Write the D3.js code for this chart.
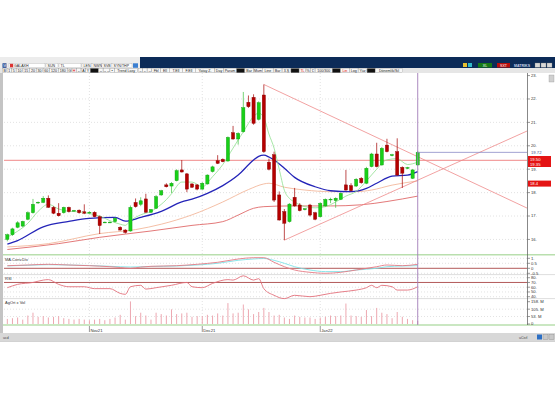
<!DOCTYPE html>
<html>
<head>
<meta charset="utf-8">
<script src="https://cdn.jsdelivr.net/npm/d3@7/dist/d3.min.js"></script>
<style>
body { margin: 0; background: #fff; }
svg { display: block; }
text { font-family: "Liberation Sans", "DejaVu Sans", sans-serif; }
</style>
</head>
<body>
<div id="chart"></div>
<script>
// daily bars, Oct 2021 - Jan 2022
var opens = [16.00,16.20,16.52,16.57,16.86,17.14,17.56,17.58,17.76,17.37,
	17.12,17.14,17.37,17.22,17.25,17.18,17.14,17.16,16.97,16.72,
	16.73,16.76,16.52,16.40,16.36,17.58,17.50,17.73,17.16,17.33,
	17.90,18.33,18.28,18.51,18.97,18.80,18.37,18.33,18.15,18.37,
	18.90,19.36,19.42,19.35,20.56,20.29,20.60,21.86,22.07,21.13,
	22.17,19.30,19.62,17.90,17.19,16.76,17.80,17.47,17.27,17.47,
	17.14,16.97,17.43,17.70,17.66,17.71,18.33,18.30,18.28,18.61,
	18.40,19.11,19.65,19.18,20.03,19.58,19.75,19.08,19.05,18.61,
	19.18];
var highs = [16.25,16.50,16.78,16.80,17.20,17.73,17.62,17.85,17.88,17.42,
	17.55,17.40,17.40,17.26,17.28,17.50,17.20,17.20,17.02,16.76,
	16.77,16.95,16.56,16.44,17.45,17.75,17.80,17.95,17.30,17.90,
	18.12,18.40,18.45,19.00,19.39,18.84,18.40,18.36,18.45,18.78,
	19.15,19.60,19.46,20.40,20.85,20.58,22.30,22.15,22.20,21.90,
	22.62,19.45,19.75,18.05,17.30,17.55,18.20,17.55,17.34,17.52,
	17.18,17.58,17.75,17.78,17.80,18.00,18.97,18.40,18.62,18.66,
	19.10,19.70,20.13,19.95,20.30,19.66,20.32,19.12,19.10,19.00,
	19.78];
var lows = [15.92,16.15,16.48,16.52,16.82,17.10,17.52,17.55,17.35,17.08,
	16.98,17.10,17.15,17.20,17.10,17.08,17.10,16.95,16.23,16.70,
	16.70,16.72,16.38,16.25,16.33,17.36,17.42,17.14,17.12,17.30,
	17.86,18.22,17.98,18.48,18.86,18.02,18.20,18.10,18.12,18.34,
	18.86,19.22,19.30,19.32,20.26,20.05,20.56,21.62,20.90,21.08,
	19.70,18.95,17.60,16.80,15.97,16.72,17.40,17.20,17.24,16.98,
	16.82,16.94,17.40,17.55,17.35,17.68,18.08,18.05,18.24,18.38,
	18.36,19.08,19.08,19.15,19.72,19.55,18.72,18.20,19.00,18.58,
	19.15];
var closes = [16.20,16.45,16.71,16.77,17.14,17.50,17.59,17.76,17.37,17.12,
	17.01,17.37,17.19,17.24,17.14,17.12,17.16,16.97,16.59,16.74,
	16.74,16.90,16.40,16.30,17.37,17.40,17.65,17.16,17.28,17.83,
	18.08,18.25,18.40,18.94,18.88,18.15,18.23,18.15,18.40,18.75,
	19.10,19.25,19.32,20.36,20.29,20.53,21.63,21.67,20.96,21.84,
	19.75,19.00,17.68,16.83,16.69,17.51,17.43,17.23,17.31,17.04,
	16.86,17.54,17.71,17.72,17.76,17.97,18.11,18.08,18.57,18.42,
	19.04,19.65,19.11,19.89,19.75,19.62,18.75,18.83,19.07,18.97,
	19.72];
// volume, millions
var volumes = [36,41,46,31,60,80,51,56,46,51,
	56,41,36,31,36,31,27,31,36,27,
	36,46,65,31,160,56,80,60,31,80,
	70,60,104,70,75,80,51,56,56,65,
	60,75,60,148,75,80,138,104,70,85,
	114,85,60,65,46,36,60,51,46,46,
	36,46,51,60,56,60,145,60,56,51,
	99,56,114,80,70,41,85,51,36,27,
	22];

// moving averages [bar, value]
var maFast = [[0,16.1],[2,16.35],[4,16.69],[6,17.2],[8,17.5],[10,17.3],[12,17.2],[14,17.18],[16,17.1],
	[18,17.0],[20,16.8],[22,16.65],[23,16.6],[24,16.8],[26,17.05],[28,17.2],[30,17.5],[31,17.7],
	[32,17.95],[34,18.45],[36,18.45],[38,18.25],[40,18.68],[42,19.2],[44,19.9],[46,20.6],[48,21.25],
	[49,21.4],[50,21.2],[51,20.5],[52,19.9],[53,19.0],[54,18.1],[55,17.75],[56,17.6],[58,17.4],
	[60,17.35],[62,17.4],[64,17.6],[66,17.85],[68,18.05],[70,18.5],[72,19.0],[74,19.4],[76,19.45],
	[78,19.2],[80,19.3]];
var maMid = [[0,15.8],[2,15.95],[7,16.54],[12,16.77],[16,16.9],[21,16.94],[23,16.78],[26,16.94],
	[30,17.2],[34,17.6],[36,17.72],[39,17.97],[42,18.3],[45,18.75],[48,19.39],[49,19.55],[50,19.6],
	[51,19.52],[52,19.39],[54,19.04],[56,18.65],[60,18.25],[63,18.08],[67,18.04],[70,18.18],
	[72,18.4],[75,18.7],[78,18.75],[80,18.9]];
var maSlow = [[0,15.68],[8,15.82],[18,16.25],[25,16.42],[30,16.65],[36,17.05],[42,17.6],[47,18.13],
	[50,18.37],[51,18.4],[54,18.23],[58,18.11],[63,18.04],[68,18.04],[71,18.11],[75,18.32],[80,18.5]];
var maLong = [[0,15.57],[10,15.82],[18,16.09],[28,16.36],[36,16.6],[42,16.76],[45,17.04],[48,17.33],
	[50,17.4],[55,17.43],[63,17.43],[69,17.48],[74,17.62],[80,17.85]];

// MACD and signal [bar, value]
var macdLine = [[0,0.26],[4,0.33],[8,0.4],[12,0.33],[16,0.26],[20,0.16],[22,0.08],[24,0.0],[26,0.12],
	[28,0.2],[33,0.26],[37,0.4],[41,0.6],[45,0.93],[48,1.06],[50,1.06],[52,0.6],[54,0.16],[56,-0.17],
	[59,-0.4],[62,-0.5],[65,-0.4],[68,-0.17],[72,0.16],[74,0.33],[77,0.26],[80,0.4]];
var signalLine = [[0,0.24],[4,0.3],[8,0.36],[12,0.33],[16,0.28],[20,0.2],[24,0.13],[28,0.18],[33,0.23],
	[37,0.33],[41,0.5],[45,0.8],[48,0.93],[50,0.98],[52,0.8],[54,0.5],[56,0.16],[59,-0.17],[62,-0.33],
	[65,-0.33],[68,-0.17],[72,0.0],[74,0.16],[77,0.23],[80,0.26]];
// RSI [bar, value]
var rsiLine = [[0,59],[2,66],[5,70],[7,75],[8,76],[10,66],[12,61],[15,61],[17,57],[20,57],[22,47],
	[23,45],[24,61],[26,64],[27,56],[29,59],[32,64],[35,70],[36,61],[38,59],[40,68],[43,76],[44,75],
	[46,84],[48,75],[49,78],[50,57],[52,43],[54,36],[56,43],[59,40],[61,43],[63,47],[65,50],[68,54],
	[70,59],[71,64],[72,59],[73,64],[75,61],[76,54],[78,54],[80,61]];

// trend lines [bar1, price1, bar2, price2]
var trendLines = [[50,22.62,101.3,17.34],[54,15.97,101.3,20.63]];
var levelPrice = 19.38;
var lastPrice = 19.72;

var monthBars = [16, 38, 61];
var monthLabels = ["Nov21", "Dec21", "Jan22"];
var priceTicks = [16, 17, 18, 19, 20, 21, 22, 23];
var macdTicks = [1, 0.5, 0, -0.5];
var macdTickLabels = ["1.", "0.5", "0", "-0.5"];
var rsiTicks = [80, 70, 60, 50, 40];
var volTicks = [158, 105, 53, 0];
var volTickLabels = ["158. M", "105. M", "53. M", "0"];

var svg = d3.select("#chart").append("svg").attr("width", 555).attr("height", 400);

// ---- window chrome ----
svg.append("rect").attr("x", 0).attr("y", 57).attr("width", 555).attr("height", 285).attr("fill", "#d2d2d2");
svg.append("rect").attr("x", 0).attr("y", 57).attr("width", 140).attr("height", 11).attr("fill", "#ececec");
svg.append("rect").attr("x", 140).attr("y", 57).attr("width", 415).attr("height", 11).attr("fill", "#0c2b58");
svg.append("rect").attr("x", 0).attr("y", 68).attr("width", 555).attr("height", 5).attr("fill", "#e6e6e6");
svg.append("rect").attr("x", 3).attr("y", 73).attr("width", 552).attr("height", 260).attr("fill", "#fff");
svg.append("rect").attr("x", 0).attr("y", 333).attr("width", 555).attr("height", 8).attr("fill", "#d8d8d8");

var hdr = svg.append("g").style("font-size", "3.6px");
hdr.append("rect").attr("x", 2.5).attr("y", 63.3).attr("width", 4).attr("height", 4.5).attr("fill", "#1f3f8a");
hdr.append("text").attr("x", 3.2).attr("y", 67.1).attr("fill", "#fff").text("M");
var row1 = [["GALAXH", 9, 36], ["SUN", 46, 12], ["TL", 59, 22], ["LEN", 82, 10], ["NWN", 92, 10], ["SVB", 102, 10], ["SYN/THP", 112, 20]];
row1.forEach(function (f) {
	hdr.append("rect").attr("x", f[1]).attr("y", 63.3).attr("width", f[2]).attr("height", 4.5)
		.attr("fill", "#fff").attr("stroke", "#999").attr("stroke-width", 0.3);
	hdr.append("text").attr("x", f[1] + (f[0] === "GALAXH" ? 5 : 1.5)).attr("y", 66.9).attr("fill", "#222").text(f[0]);
});
hdr.append("rect").attr("x", 10).attr("y", 63.8).attr("width", 3.2).attr("height", 3.5).attr("fill", "#d33");
hdr.append("rect").attr("x", 133).attr("y", 63.3).attr("width", 5).attr("height", 4.5).attr("fill", "#3c7fd0");

var row2 = ["B","1","5","10","15","20","30","60","120","180","G","H","\u2190","A","Y","\u25a0","\u2194","\u2192\u2190","\u2022",
	"Trend Lasy","\u2192","\u2190","\u2192","Fbl","Ell","T.Ell","F.Ell","Yatay Z.","Day","Param","\u25a0","Bar","Mum","Line",
	"Bar","3.\u015e","\u25a0","TL","%","\u20ac","100/300","\u25a0","Lin","Log","Y\u00fcz","\u25a0","D\u00f6nemlik/S\u0131l"];
var bx = 2.5;
row2.forEach(function (t) {
	var black = t === "\u25a0";
	var w = black ? 8 : Math.max(4.3, t.length * 2.1 + 2.2);
	hdr.append("rect").attr("x", bx).attr("y", 68.4).attr("width", w).attr("height", 4.3)
		.attr("fill", black ? "#111" : "#f7f7f7").attr("stroke", "#888").attr("stroke-width", 0.3);
	if (!black) {
		hdr.append("text").attr("x", bx + w / 2).attr("y", 71.8).attr("text-anchor", "middle")
			.attr("fill", (t === "H" || t === "TL" || t === "Lin") ? "#d00" : "#222").text(t);
	}
	bx += w + 0.3;
});

// top right buttons
hdr.append("rect").attr("x", 463).attr("y", 63).attr("width", 4).attr("height", 4).attr("fill", "#e8c030");
hdr.append("rect").attr("x", 468).attr("y", 63).attr("width", 4).attr("height", 4).attr("fill", "#30b8c8");
hdr.append("rect").attr("x", 478).attr("y", 63).attr("width", 14).attr("height", 4.5).attr("fill", "#167a16");
hdr.append("text").attr("x", 485).attr("y", 66.6).attr("text-anchor", "middle").attr("fill", "#fff").text("XL");
hdr.append("rect").attr("x", 497).attr("y", 63).attr("width", 13).attr("height", 4.5).attr("fill", "#b80d0d");
hdr.append("text").attr("x", 503.5).attr("y", 66.6).attr("text-anchor", "middle").attr("fill", "#fff").text("SXT");
hdr.append("text").attr("x", 514).attr("y", 66.6).attr("fill", "#c8d0e8").style("font-weight", "bold").text("MATRIKS");
[535, 541, 547].forEach(function (bxx) {
	hdr.append("rect").attr("x", bxx).attr("y", 63).attr("width", 5).attr("height", 4.3)
		.attr("fill", "#d8d8d8").attr("stroke", "#777").attr("stroke-width", 0.3);
});

// left gray strip
svg.append("rect").attr("x", 0).attr("y", 73).attr("width", 3).attr("height", 260).attr("fill", "#c4c4c4");

// ---- scales ----
var x = d3.scaleLinear().domain([-0.65, 101.3]).range([4, 527]);
var yP = d3.scaleLinear().domain([15.42, 23.11]).range([253, 73]);
var yM = d3.scaleLinear().domain([-0.57, 1.23]).range([274, 256]);
var yR = d3.scaleLinear().domain([37.3, 85.7]).range([298, 275]);
var yV = d3.scaleLinear().domain([0, 158]).range([324, 301.7]);

var defs = svg.append("defs");
defs.append("clipPath").attr("id", "clipP").append("rect").attr("x", 4).attr("y", 73).attr("width", 523).attr("height", 181);
defs.append("clipPath").attr("id", "clipS").append("rect").attr("x", 4).attr("y", 255).attr("width", 523).attr("height", 70);

var gridColor = "#cfcfcf";

// ---- grids ----
var grid = svg.append("g");
grid.selectAll("line.hp").data(priceTicks.filter(function (d) { return d < 23; })).enter().append("line")
	.attr("x1", 4).attr("x2", 527).attr("y1", function (d) { return yP(d); }).attr("y2", function (d) { return yP(d); })
	.attr("stroke", gridColor).attr("stroke-width", 0.6).attr("stroke-dasharray", "1,2");
grid.selectAll("line.hm").data([1, 0.5, -0.5]).enter().append("line")
	.attr("x1", 4).attr("x2", 527).attr("y1", function (d) { return yM(d); }).attr("y2", function (d) { return yM(d); })
	.attr("stroke", gridColor).attr("stroke-width", 0.6).attr("stroke-dasharray", "1,2");
grid.selectAll("line.hr").data([80, 60, 50, 40]).enter().append("line")
	.attr("x1", 4).attr("x2", 527).attr("y1", function (d) { return yR(d); }).attr("y2", function (d) { return yR(d); })
	.attr("stroke", gridColor).attr("stroke-width", 0.6).attr("stroke-dasharray", "1,2");
grid.selectAll("line.hv").data([105, 53]).enter().append("line")
	.attr("x1", 4).attr("x2", 527).attr("y1", function (d) { return yV(d); }).attr("y2", function (d) { return yV(d); })
	.attr("stroke", gridColor).attr("stroke-width", 0.6).attr("stroke-dasharray", "1,2");
grid.selectAll("line.v").data(monthBars).enter().append("line")
	.attr("x1", function (d) { return x(d); }).attr("x2", function (d) { return x(d); })
	.attr("y1", 73).attr("y2", 325)
	.attr("stroke", gridColor).attr("stroke-width", 0.6).attr("stroke-dasharray", "1,2");

// panel separators
svg.append("line").attr("x1", 3).attr("x2", 555).attr("y1", 254.8).attr("y2", 254.8).attr("stroke", "#b9dfae").attr("stroke-width", 1.6);
svg.append("line").attr("x1", 3).attr("x2", 555).attr("y1", 274.6).attr("y2", 274.6).attr("stroke", "#c8c8c8").attr("stroke-width", 0.6);
svg.append("line").attr("x1", 3).attr("x2", 555).attr("y1", 298.6).attr("y2", 298.6).attr("stroke", "#c8c8c8").attr("stroke-width", 0.6);
svg.append("line").attr("x1", 3).attr("x2", 555).attr("y1", 325).attr("y2", 325).attr("stroke", "#b9dfae").attr("stroke-width", 1.6);

// ---- price panel ----
var price = svg.append("g").attr("clip-path", "url(#clipP)");

var line = d3.line().x(function (d) { return x(d[0]); }).y(function (d) { return yP(d[1]); }).curve(d3.curveMonotoneX);

price.append("line").attr("x1", 4).attr("x2", 527).attr("y1", yP(levelPrice)).attr("y2", yP(levelPrice))
	.attr("stroke", "#ee7a7a").attr("stroke-width", 0.9);

price.append("path").datum(maLong).attr("d", line).attr("fill", "none").attr("stroke", "#e06a6a").attr("stroke-width", 0.9);
price.append("path").datum(maSlow).attr("d", line).attr("fill", "none").attr("stroke", "#f3b89c").attr("stroke-width", 0.9);
price.append("path").datum(maMid).attr("d", line).attr("fill", "none").attr("stroke", "#2424b8").attr("stroke-width", 1.3);
price.append("path").datum(maFast).attr("d", line).attr("fill", "none").attr("stroke", "#8fe08f").attr("stroke-width", 0.8);

price.selectAll("line.trend").data(trendLines).enter().append("line")
	.attr("x1", function (d) { return x(d[0]); }).attr("y1", function (d) { return yP(d[1]); })
	.attr("x2", function (d) { return x(d[2]); }).attr("y2", function (d) { return yP(d[3]); })
	.attr("stroke", "#ef8a8a").attr("stroke-width", 0.8);

var bars = d3.range(opens.length).map(function (i) {
	return {i: i, o: opens[i], h: highs[i], l: lows[i], c: closes[i]};
});
var candle = price.selectAll("g.candle").data(bars).enter().append("g").attr("class", "candle");
candle.append("line")
	.attr("x1", function (d) { return x(d.i); }).attr("x2", function (d) { return x(d.i); })
	.attr("y1", function (d) { return yP(d.h); }).attr("y2", function (d) { return yP(d.l); })
	.attr("stroke", function (d) { return d.c >= d.o ? "#3cc23c" : "#a40000"; })
	.attr("stroke-width", 0.7);
candle.append("rect")
	.attr("x", function (d) { return x(d.i) - 1.6; }).attr("width", 3.2)
	.attr("y", function (d) { return yP(Math.max(d.o, d.c)); })
	.attr("height", function (d) { return Math.max(0.8, Math.abs(yP(d.o) - yP(d.c))); })
	.attr("fill", function (d) { return d.c >= d.o ? "#18d018" : "#b50000"; })
	.attr("stroke", function (d) { return d.c >= d.o ? "#109a10" : "#860000"; })
	.attr("stroke-width", 0.4);

// last price line
price.append("line").attr("x1", x(80)).attr("x2", 527).attr("y1", yP(lastPrice)).attr("y2", yP(lastPrice))
	.attr("stroke", "#8a8ac8").attr("stroke-width", 0.8);

// ---- sub panels ----
var sub = svg.append("g").attr("clip-path", "url(#clipS)");
var lineM = d3.line().x(function (d) { return x(d[0]); }).y(function (d) { return yM(d[1]); }).curve(d3.curveMonotoneX);
var lineR = d3.line().x(function (d) { return x(d[0]); }).y(function (d) { return yR(d[1]); }).curve(d3.curveMonotoneX);

sub.append("line").attr("x1", 4).attr("x2", 527).attr("y1", yM(0)).attr("y2", yM(0)).attr("stroke", "#a03030").attr("stroke-width", 0.8);
sub.append("path").datum(signalLine).attr("d", lineM).attr("fill", "none").attr("stroke", "#7ee3e8").attr("stroke-width", 0.9);
sub.append("path").datum(macdLine).attr("d", lineM).attr("fill", "none").attr("stroke", "#e57b84").attr("stroke-width", 0.9);

sub.append("line").attr("x1", 4).attr("x2", 527).attr("y1", yR(70)).attr("y2", yR(70)).attr("stroke", "#a03030").attr("stroke-width", 0.8);
sub.append("path").datum(rsiLine).attr("d", lineR).attr("fill", "none").attr("stroke", "#e3707c").attr("stroke-width", 0.9);

sub.selectAll("line.vol").data(volumes).enter().append("line")
	.attr("x1", function (d, i) { return x(i); }).attr("x2", function (d, i) { return x(i); })
	.attr("y1", yV(0)).attr("y2", function (d) { return yV(d); })
	.attr("stroke", "#eb9ea8").attr("stroke-width", 0.9);

// cursor
svg.append("line").attr("x1", x(80)).attr("x2", x(80)).attr("y1", 73).attr("y2", 325)
	.attr("stroke", "#a07cb8").attr("stroke-width", 0.9);

// panel titles
var lab = svg.append("g").style("font-size", "4px").attr("fill", "#333");
lab.append("text").attr("x", 5).attr("y", 260.5).text("MA.Conv.Div");
lab.append("text").attr("x", 5).attr("y", 279.5).text("RSI");
lab.append("text").attr("x", 5).attr("y", 303.5).text("AgOrt x Vol");

// ---- right axes ----
var axisG = svg.append("g").style("font-size", "4.2px").attr("fill", "#333");
axisG.append("line").attr("x1", 527.5).attr("x2", 527.5).attr("y1", 73).attr("y2", 325).attr("stroke", "#555").attr("stroke-width", 0.7);

function rightTicks(vals, labels, scale) {
	vals.forEach(function (v, k) {
		var yy = scale(v);
		axisG.append("line").attr("x1", 527.5).attr("x2", 530).attr("y1", yy).attr("y2", yy).attr("stroke", "#555").attr("stroke-width", 0.6);
		axisG.append("text").attr("x", 531).attr("y", yy + 1.4).text(labels[k]);
	});
}
rightTicks(priceTicks, priceTicks.map(function (d) { return d + "."; }), yP);
rightTicks(macdTicks, macdTickLabels, yM);
rightTicks(rsiTicks, rsiTicks.map(function (d) { return d + "."; }), yR);
rightTicks(volTicks, volTickLabels, yV);

// price tags
axisG.append("text").attr("x", 531).attr("y", yP(lastPrice) + 1.4).attr("fill", "#4a4a8a").text("19.72");
axisG.append("rect").attr("x", 528).attr("y", 156).attr("width", 23).attr("height", 11).attr("fill", "#e41414");
axisG.append("text").attr("x", 530).attr("y", 160.6).attr("fill", "#fff").text("19.50");
axisG.append("text").attr("x", 530).attr("y", 165.6).attr("fill", "#fff").text("19.35");
axisG.append("rect").attr("x", 528).attr("y", 180.6).attr("width", 23).attr("height", 6).attr("fill", "#e41414");
axisG.append("text").attr("x", 530).attr("y", 185.2).attr("fill", "#fff").text("18.4");
axisG.append("rect").attr("x", 549).attr("y", 75).attr("width", 5).attr("height", 7).attr("fill", "#d0d0d0").attr("stroke", "#888").attr("stroke-width", 0.3);

// ---- x axis ----
var xa = svg.append("g").style("font-size", "4.2px").attr("fill", "#333");
monthBars.forEach(function (b, k) {
	xa.append("line").attr("x1", x(b)).attr("x2", x(b)).attr("y1", 326).attr("y2", 332).attr("stroke", "#555").attr("stroke-width", 0.6);
	xa.append("text").attr("x", x(b) + 1).attr("y", 331.5).text(monthLabels[k]);
});

// status bar
var st = svg.append("g").style("font-size", "3.6px").attr("fill", "#444");
st.append("text").attr("x", 3).attr("y", 338.5).text("ucd");
st.append("text").attr("x", 519).attr("y", 338.5).text("uCsrl");
st.append("rect").attr("x", 537).attr("y", 334.5).attr("width", 5).attr("height", 5).attr("fill", "#2c6fc4");
st.append("rect").attr("x", 543).attr("y", 334.5).attr("width", 5).attr("height", 5).attr("fill", "#c8c8c8").attr("stroke", "#777").attr("stroke-width", 0.3);
st.append("rect").attr("x", 549).attr("y", 334.5).attr("width", 5).attr("height", 5).attr("fill", "#c8c8c8").attr("stroke", "#777").attr("stroke-width", 0.3);
</script>
</body>
</html>
